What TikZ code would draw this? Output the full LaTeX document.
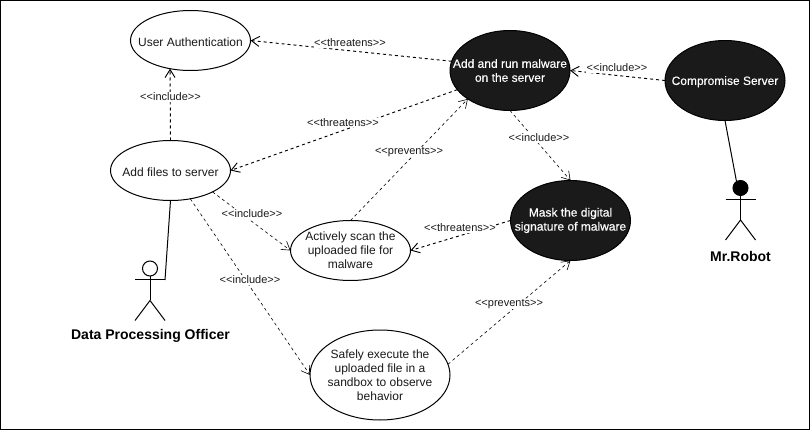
\documentclass[tikz,border=0pt]{standalone}
\usepackage{fontspec}
\setmainfont{Liberation Sans}
\usepackage{tikz}
\usetikzlibrary{shapes.geometric,arrows.meta}

\definecolor{dark}{HTML}{1A1A1A}
\newcommand{\stereo}[1]{<{}<#1>{}>}

\tikzset{
  usecase/.style={ellipse,draw,line width=0.75pt,inner sep=-12pt,outer sep=0pt,
    minimum width=90pt,minimum height=45pt,align=center,text=dark,
    font=\fontsize{9}{10.5}\selectfont,execute at begin node={\rule{0pt}{8.5pt}}},
  attack/.style={usecase,fill=dark,text=white,minimum height=60pt,
    font=\fontsize{9}{10.5}\selectfont\addfontfeature{FakeBold=0.25}},
  stereotype/.style={fill=white,inner sep=0.5pt,text=dark,font=\fontsize{8.25}{10}\selectfont},
  actorname/.style={inner sep=0pt,font=\fontsize{10.5}{12}\selectfont\bfseries},
  head/.style={circle,draw,line width=0.75pt,inner sep=0pt,outer sep=0pt,minimum size=11.25pt},
  dep/.style={line width=0.7pt,dash pattern=on 2.25pt off 2.25pt,
    -{Straight Barb[length=6pt,width=7.5pt]}},
  thindep/.style={dep,line width=0.45pt},
  stick/.style={line width=0.75pt}
}

\begin{document}
\begin{tikzpicture}[x=0.75pt,y=-0.75pt]
        % Frame
        \useasboundingbox (0,0) rectangle (811,431);
        \draw[line width=1.1pt,fill=white] (0.5,0.5) rectangle (809.7,429.7);

        % Use cases
        \node[usecase] (auth) at (190.5,40.5) {User Authentication};
        \node[usecase] (files) at (170.5,170.5) {Add files to server};
        \node[usecase] (scan) at (350.5,250.5) {Actively scan the\\uploaded file for\\malware};
        \node[usecase,minimum width=105pt,minimum height=67.5pt] (sandbox) at (380,375)
          {Safely execute the\\uploaded file in a\\sandbox to observe\\behavior};
        \node[attack] (run) at (510,70.5) {Add and run malware\\on the server};
        \node[attack] (compromise) at (725,80.5) {Compromise Server};
        \node[attack] (mask) at (570.5,220.5) {Mask the digital\\signature of malware};

        % Data Processing Officer
        \node[head] (officer) at (150,268.5) {};
        \coordinate (officerhand) at (165,280);
        \draw[stick] (officer.south) -- (150,300.5);
        \draw[stick] (135,280) -- (officerhand);
        \draw[stick] (135,320.5) -- (150,300.5) -- (165,320.5);
        \node[actorname] (officername) at (150.5,336) {Data Processing Officer};

        % Mr.Robot
        \node[head,fill=black] (robot) at (740.5,188) {};
        \draw[stick] (robot.south) -- (740.5,220);
        \draw[stick] (725.5,200) -- (755.5,200);
        \draw[stick] (725.5,240) -- (740.5,220) -- (755.5,240);
        \node[actorname] (robotname) at (740.5,256) {Mr.Robot};

        % Associations
        \draw[stick] (files.south) -- (officerhand);
        \draw[stick] (compromise.south) -- (robot.122);

        % Dependencies
        \draw[dep] (run.171) -- (auth.east);
        \draw[dep] (run.200.5) -- (files.east);
        \draw[thindep] (scan.north) -- (run.214.8);
        \draw[dep] (files.north) -- (auth.234.7);
        \draw[thindep] (run.south) -- (mask.north);
        \draw[dep] (compromise.west) -- (run.east);
        \draw[dep] (mask.west) -- (scan.east);
        \draw[thindep] (files.-27) -- (scan.west);
        \draw[thindep] (files.-55.5) -- (sandbox.west);
        \draw[thindep] (sandbox.9.9) -- (mask.south);

        % Labels on the dependencies
        \node[stereotype] (threatensauth) at (350,43) {\stereo{threatens}};
        \node[stereotype] (threatensfiles) at (343,122.5) {\stereo{threatens}};
        \node[stereotype] (preventsrun) at (409,152) {\stereo{prevents}};
        \node[stereotype] (includeauth) at (170.5,97) {\stereo{include}};
        \node[stereotype] (includemask) at (539,138) {\stereo{include}};
        \node[stereotype] (includerun) at (617,68) {\stereo{include}};
        \node[stereotype] (threatensscan) at (460,228) {\stereo{threatens}};
        \node[stereotype] (includescan) at (252,214) {\stereo{include}};
        \node[stereotype] (includesandbox) at (250,280) {\stereo{include}};
        \node[stereotype] (preventsmask) at (509,304) {\stereo{prevents}};
      \end{tikzpicture}
\end{document}
